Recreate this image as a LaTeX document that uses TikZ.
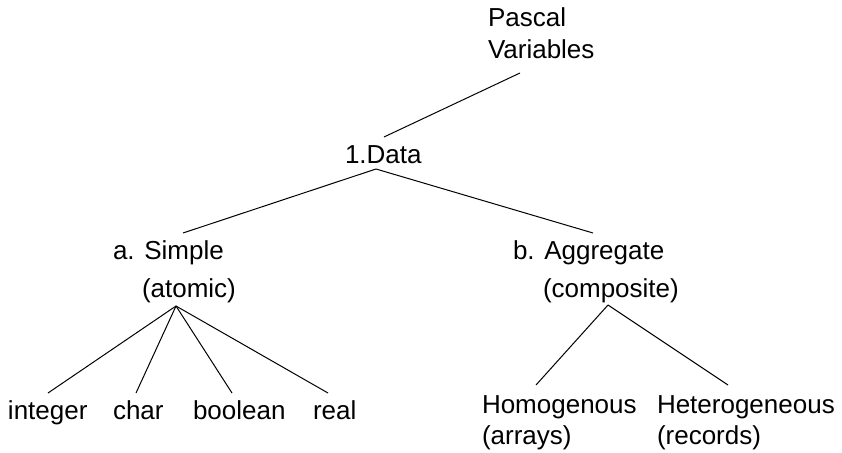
\documentclass[tikz,border=0pt]{standalone}
\usepackage{fontspec}
\setmainfont{Liberation Sans}
\begin{document}
\begin{tikzpicture}[x=1pt,y=-1pt,
  lbl/.style={anchor=base west,inner sep=0pt,outer sep=0pt,font=\fontsize{26}{32}\selectfont},
  edge/.style={draw=black,line width=1pt}]
\useasboundingbox (0,0) rectangle (842,452);
% texts
\node[lbl] (pascal) at (488,27) {Pascal};
\node[lbl] (variables) at (488,59) {Variables};
\node[lbl] (data) at (345,163) {1.Data};
\node[lbl] (simple) at (113,259) {a. Simple};
\node[lbl] (atomic) at (142,297) {(atomic)};
\node[lbl] (aggregate) at (513,259) {b. Aggregate};
\node[lbl] (composite) at (543,297) {(composite)};
\node[lbl] (integer) at (8,419) {integer};
\node[lbl] (char) at (113,419) {char};
\node[lbl] (boolean) at (193,419) {boolean};
\node[lbl] (real) at (313,419) {real};
\node[lbl] (homo) at (482,413) {Homogenous};
\node[lbl] (arrays) at (482,444) {(arrays)};
\node[lbl] (hetero) at (657,413) {Heterogeneous};
\node[lbl] (records) at (657,444) {(records)};
% connector end points
\coordinate (pvB) at (520,73);
\coordinate (dataT) at (384,137);
\coordinate (dataB) at (376,169);
\coordinate (simpleT) at (183,233);
\coordinate (aggT) at (593,233);
\coordinate (atomB) at (176,306);
\coordinate (intT) at (48,393);
\coordinate (charT) at (136,393);
\coordinate (boolT) at (232,393);
\coordinate (realT) at (328,393);
\coordinate (compB) at (608,305);
\coordinate (homoT) at (536,385);
\coordinate (hetT) at (728,385);
% connectors
\draw[edge] (pvB) -- (dataT);
\draw[edge] (dataB) -- (simpleT);
\draw[edge] (dataB) -- (aggT);
\draw[edge] (atomB) -- (intT);
\draw[edge] (atomB) -- (charT);
\draw[edge] (atomB) -- (boolT);
\draw[edge] (atomB) -- (realT);
\draw[edge] (compB) -- (homoT);
\draw[edge] (compB) -- (hetT);
\end{tikzpicture}
\end{document}
